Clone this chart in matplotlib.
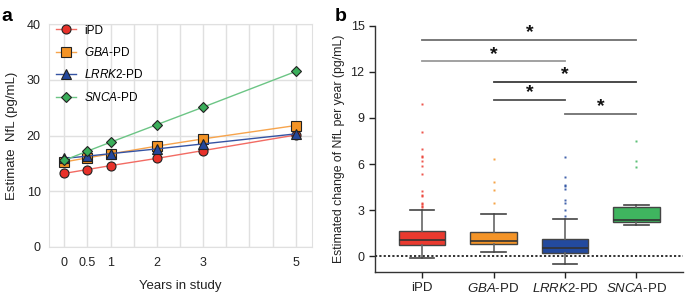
import numpy as np
import matplotlib.pyplot as plt

plt.rcParams['font.family'] = ['Liberation Sans', 'DejaVu Sans']
plt.rcParams['mathtext.fontset'] = 'custom'
plt.rcParams['mathtext.it'] = 'Liberation Sans:italic'
plt.rcParams['mathtext.rm'] = 'Liberation Sans'

# panel a data
years = [0, 0.5, 1, 2, 3, 5]
ipd_nfl = [13.2, 13.9, 14.6, 15.9, 17.3, 20.1]
gba_nfl = [15.25, 16.0, 16.7, 18.1, 19.4, 21.8]
lrrk2_nfl = [15.9, 16.3, 16.75, 17.6, 18.5, 20.3]
snca_nfl = [15.55, 17.2, 18.8, 21.95, 25.1, 31.5]

groups = ['iPD', '$\\it{GBA}$-PD', '$\\it{LRRK2}$-PD', '$\\it{SNCA}$-PD']

# panel b data: box stats
q1 = [0.74, 0.82, 0.22, 2.25]
med = [1.06, 0.97, 0.52, 2.38]
q3 = [1.62, 1.56, 1.10, 3.20]
whislo = [-0.10, 0.28, -0.50, 2.03]
whishi = [3.03, 2.73, 2.40, 3.31]
outliers = [
    [9.9, 8.1, 7.0, 6.5, 6.45, 6.2, 5.85, 5.35, 4.25, 4.0, 3.95, 3.45, 3.4, 3.3, 3.2],
    [6.34, 4.85, 4.33, 3.5],
    [6.47, 5.13, 4.65, 4.59, 4.35, 3.68, 3.5, 3.03, 2.6],
    [7.47, 6.23, 5.82],
]
# significance: (group i, group j, bar height)
sig_pairs = [(0, 3, 14.07), (0, 2, 12.7), (1, 3, 11.34), (1, 2, 10.17), (2, 3, 9.26)]
sig_colors = ['#6e6e6e', '#9a9a9a', '#3a3a3a', '#505050', '#707070']

line_colors = ['#f26b63', '#f7a44c', '#3553a3', '#6cc585']
marker_colors = ['#e8312a', '#f39325', '#24489c', '#3aae5a']
markers = ['o', 's', '^', 'D']
box_colors = ['#ea3a2f', '#f49428', '#234a9e', '#3fb55f']

fig = plt.figure(figsize=(6.85, 2.94), dpi=100)

# ---- panel a
ax1 = fig.add_axes([0.0715, 0.160, 0.384, 0.758])
series = [ipd_nfl, gba_nfl, lrrk2_nfl, snca_nfl]
for i, vals in enumerate(series):
    ms = 6.5 if markers[i] != 'D' else 5
    ax1.plot(years, vals, color=line_colors[i], lw=1.0, marker=markers[i], ms=ms,
             mfc=marker_colors[i], mec='#222222', mew=0.8, label=groups[i], zorder=3)
ax1.set_xlim(-0.33, 5.35)
ax1.set_ylim(0, 40)
ax1.set_xticks(years)
ax1.set_xticklabels(['0', '0.5', '1', '2', '3', '5'])
ax1.set_xticks(np.arange(0, 5.01, 0.5), minor=True)
ax1.set_yticks([0, 10, 20, 30, 40])
ax1.grid(True, which='both', axis='x', color='#e0e0e0', lw=1)
ax1.grid(True, axis='y', color='#e0e0e0', lw=1)
ax1.tick_params(which='both', length=0, labelsize=9, colors='#222222')
ax1.tick_params(axis='x', pad=7)
ax1.tick_params(axis='y', pad=6)
for s in ax1.spines.values():
    s.set_color('#e0e0e0')
ax1.set_axisbelow(True)
ax1.set_xlabel('Years in study', fontsize=9.5, color='#222222', labelpad=8)
ax1.set_ylabel('Estimate  NfL (pg/mL)', fontsize=9.5, color='#222222', labelpad=6)
ax1.legend(loc='upper left', frameon=False, fontsize=8.5, labelspacing=0.8,
           handlelength=1.7, handletextpad=0.7, borderaxespad=0.2,
           bbox_to_anchor=(0.0, 1.03))
fig.text(0.002, 0.945, 'a', fontsize=14, fontweight='bold', va='center')

# ---- panel b
ax2 = fig.add_axes([0.5474, 0.0759, 0.4496, 0.8367])
stats = []
for i in range(4):
    stats.append(dict(q1=q1[i], med=med[i], q3=q3[i], whislo=whislo[i],
                      whishi=whishi[i], fliers=outliers[i]))
bp = ax2.bxp(stats, positions=range(4), widths=0.65, patch_artist=True,
             showfliers=True,
             boxprops=dict(edgecolor='#444444', lw=1.0),
             medianprops=dict(color='#333333', lw=1.2),
             whiskerprops=dict(color='#666666', lw=1.2),
             capprops=dict(color='#444444', lw=1.2),
             capwidths=0.34)
for i, patch in enumerate(bp['boxes']):
    patch.set_facecolor(box_colors[i])
for i, fl in enumerate(bp['fliers']):
    fl.set(marker='s', ms=1.8, mfc=box_colors[i], mec='none', alpha=0.85)

ax2.axhline(0, color='#222222', ls=(0, (1.2, 1.2)), lw=1.3, zorder=1)
for (i, j, h), c in zip(sig_pairs, sig_colors):
    ax2.plot([i, j], [h, h], color=c, lw=1.3)
    ax2.text((i + j) / 2, h + 0.45, '*', ha='center', va='center',
             fontsize=14, fontweight='bold', color='#111111')

ax2.set_xlim(-0.66, 3.65)
ax2.set_ylim(-1, 15)
ax2.set_yticks([0, 3, 6, 9, 12, 15])
ax2.set_xticks(range(4))
ax2.set_xticklabels(groups)
ax2.tick_params(length=4.5, width=1, colors='#222222', labelsize=9, pad=3)
ax2.tick_params(axis='x', labelsize=9.5)
ax2.spines['top'].set_visible(False)
ax2.spines['right'].set_visible(False)
ax2.spines['left'].set_bounds(-1, 15)
for s in ['left', 'bottom']:
    ax2.spines[s].set_color('#333333')
    ax2.spines[s].set_linewidth(1.0)
ax2.set_ylabel('Estimated change of NfL per year (pg/mL)', fontsize=8.8,
               color='#222222', labelpad=4)
fig.text(0.488, 0.945, 'b', fontsize=14, fontweight='bold', va='center')

fig.savefig('out.png', dpi=100)
